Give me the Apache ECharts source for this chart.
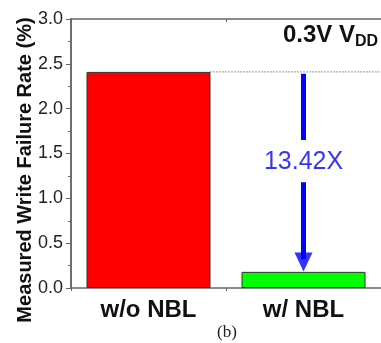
<!DOCTYPE html>
<html><head><meta charset="utf-8">
<script src="https://cdn.jsdelivr.net/npm/echarts@6/dist/echarts.min.js"></script>
<style>html,body{margin:0;padding:0;background:#fff}#c{width:381px;height:343px}</style>
</head><body><div id="c"></div>
<script>
const categories = ['w/o NBL', 'w/ NBL'];
const failureRate = [2.41, 0.18];
const barColors = ['#ff0000', '#00ff00'];
const yTicks = [0, 0.5, 1.0, 1.5, 2.0, 2.5, 3.0];
const ratioLabel = '13.42X';
const yTitle = 'Measured Write Failure Rate (%)';

const wo = failureRate[0], w = failureRate[1];
const blue = '#0000ff';
const axisColor = '#666';
const chart = echarts.init(document.getElementById('c'));
chart.setOption({
  animation: false,
  grid: { left: 71, top: 19, right: -4, bottom: 55 },
  xAxis: [
    { type: 'category', data: categories, position: 'bottom',
      axisLine: { lineStyle: { color: axisColor, width: 1.5 } },
      axisTick: { alignWithLabel: true, length: 5, lineStyle: { color: axisColor } },
      axisLabel: { fontSize: 24, fontWeight: 'bold', color: '#111', fontFamily: 'Liberation Sans', margin: 10 } },
    { type: 'value', min: 0, max: 2, interval: 1, position: 'bottom',
      axisLine: { show: false }, axisLabel: { show: false }, splitLine: { show: false },
      axisTick: { length: 3, lineStyle: { color: axisColor } } },
    { type: 'category', data: categories, position: 'top',
      axisLine: { lineStyle: { color: axisColor, width: 1.5 } },
      axisTick: { alignWithLabel: true, inside: true, length: 5, lineStyle: { color: axisColor } },
      axisLabel: { show: false } },
    { type: 'value', min: 0, max: 2, interval: 1, position: 'top',
      axisLine: { show: false }, axisLabel: { show: false }, splitLine: { show: false },
      axisTick: { inside: true, length: 3, lineStyle: { color: axisColor } } }
  ],
  yAxis: [
    { type: 'value', min: 0, max: 3, interval: 0.5, position: 'left',
      axisLine: { show: true, lineStyle: { color: axisColor, width: 1.5 } },
      axisTick: { show: true, length: 5, lineStyle: { color: axisColor } },
      minorTick: { show: true, splitNumber: 2, length: 3, lineStyle: { color: axisColor } },
      axisLabel: { fontSize: 18, color: '#222', fontFamily: 'Liberation Sans', margin: 8,
        formatter: v => v.toFixed(1) },
      splitLine: { show: false } },
    { type: 'value', min: 0, max: 3, interval: 0.5, position: 'right',
      axisLine: { show: true, lineStyle: { color: axisColor, width: 1.5 } },
      axisTick: { show: true, inside: true, length: 5, lineStyle: { color: axisColor } },
      minorTick: { show: true, splitNumber: 2, length: 3, lineStyle: { color: axisColor } },
      axisLabel: { show: false }, splitLine: { show: false } }
  ],
  series: [
    { type: 'bar', xAxisIndex: 0, yAxisIndex: 0, barWidth: '80%',
      data: failureRate.map((v, i) => ({ value: v, itemStyle: { color: barColors[i], borderColor: '#333', borderWidth: 1 } })) },
    { type: 'line', xAxisIndex: 1, yAxisIndex: 0, symbol: 'none', silent: true,
      lineStyle: { color: '#333', width: 1, type: [1, 2] },
      data: [[0.9, wo], [2, wo]] },
    { type: 'line', xAxisIndex: 1, yAxisIndex: 0, symbol: 'none', silent: true,
      lineStyle: { color: blue, width: 5, cap: 'butt' },
      data: [[1.5, wo - 0.02], [1.5, 1.65]] },
    { type: 'line', xAxisIndex: 1, yAxisIndex: 0, symbol: 'none', silent: true,
      lineStyle: { color: blue, width: 5, cap: 'butt' },
      data: [[1.5, 1.18], [1.5, w + 0.14]] },
    { type: 'scatter', xAxisIndex: 1, yAxisIndex: 0, silent: true,
      symbol: 'triangle', symbolRotate: 180, symbolSize: [18, 19],
      itemStyle: { color: blue },
      data: [[1.5, w + 0.11]] },
    { type: 'scatter', xAxisIndex: 1, yAxisIndex: 0, silent: true, symbolSize: 1,
      itemStyle: { color: 'rgba(0,0,0,0)' },
      label: { show: true, position: 'inside', formatter: ratioLabel, fontSize: 25,
        color: blue, textBorderWidth: 0, fontFamily: 'Liberation Sans' },
      data: [[1.5, (wo + w) / 2 + 0.11]] }
  ],
  graphic: [
    { type: 'text', x: 25, y: 170, rotation: Math.PI / 2, silent: true,
      style: { text: yTitle, fontSize: 20, fontWeight: 'bold', fill: '#111', fontFamily: 'Liberation Sans',
        align: 'center', verticalAlign: 'middle' } },
    { type: 'text', left: 283, top: 23, silent: true,
      style: { text: '{a|0.3V V}{b|DD}',
        rich: { a: { fontSize: 24, fontWeight: 'bold', fill: '#111', fontFamily: 'Liberation Sans' },
                b: { fontSize: 16, fontWeight: 'bold', fill: '#111', fontFamily: 'Liberation Sans', padding: [14, 0, 0, 0] } } } },
    { type: 'text', left: 217, top: 324, silent: true,
      style: { text: '(b)', fontSize: 17, fill: '#222', fontFamily: 'Liberation Serif' } }
  ]
});
</script></body></html>
